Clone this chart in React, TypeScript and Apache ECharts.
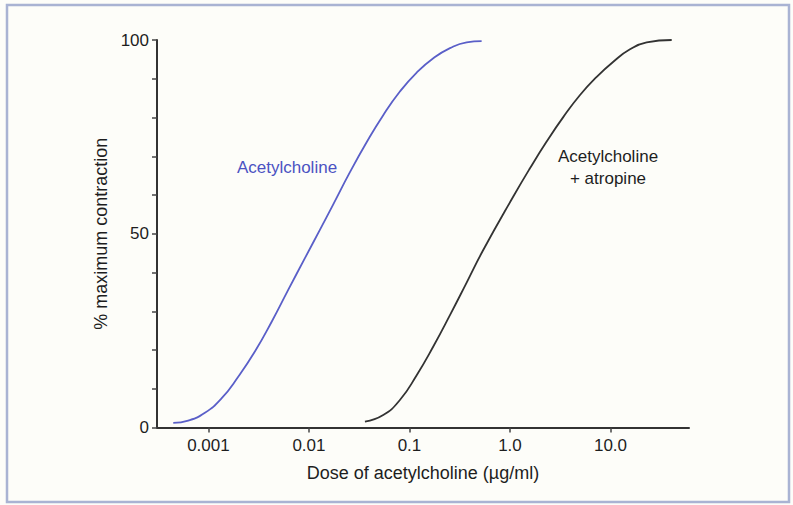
import React, { useEffect, useRef } from "react";
import * as echarts from "echarts";

// Dose (µg/ml) and % maximum contraction
const achDose = [0.000447, 0.00063, 0.000923, 0.00135, 0.00198, 0.0029, 0.00426, 0.00622, 0.00912, 0.01285, 0.01746, 0.02559, 0.0375, 0.05483, 0.08035, 0.118, 0.1726, 0.2529, 0.3707, 0.5224];
const achPct = [1.2, 1.8, 3.8, 7.5, 13.1, 19.6, 27.3, 35.5, 43.7, 51.0, 57.6, 65.9, 73.6, 80.6, 86.7, 91.6, 95.3, 97.9, 99.4, 99.7];

const atrDose = [0.03606, 0.05483, 0.08035, 0.118, 0.1726, 0.2529, 0.3707, 0.542, 1.079, 1.581, 2.317, 3.388, 4.977, 7.295, 10.67, 15.63, 22.91, 40.64];
const atrPct = [1.5, 3.2, 7.1, 13.5, 20.9, 29.0, 37.4, 45.8, 59.6, 66.9, 73.8, 80.1, 85.8, 90.5, 94.4, 97.6, 99.4, 100];

const xTickDoses = [0.001, 0.01, 0.1, 1, 10];
const xTickLabels = ["0.001", "0.01", "0.1", "1.0", "10.0"];
const yLabeled = [0, 50, 100];

const xMinDose = 0.000308;
const xMaxDose = 60.4;

const FONT = "'Liberation Sans', Arial, Helvetica, sans-serif";

export default function App() {
  const ref = useRef<HTMLDivElement>(null);

  useEffect(() => {
    if (!ref.current) return;
    const chart = echarts.init(ref.current, null, { renderer: "svg" });
    const toPts = (d: number[], p: number[]) => d.map((v, i) => [Math.log10(v), p[i]]);
    const tickLogs = xTickDoses.map((v) => Math.log10(v));

    chart.setOption({
      animation: false,
      backgroundColor: "#fdfdf9",
      textStyle: { fontFamily: FONT },
      grid: { left: 157, right: 104, top: 40, bottom: 77.5 },
      xAxis: {
        type: "value",
        min: Math.log10(xMinDose),
        max: Math.log10(xMaxDose),
        name: "Dose of acetylcholine (µg/ml)",
        nameLocation: "middle",
        nameGap: 36,
        nameTextStyle: { fontSize: 18, color: "#1e1e1e", fontFamily: FONT, verticalAlign: "top" },
        axisLine: { show: true, onZero: false, lineStyle: { color: "#333", width: 2 } },
        axisTick: { show: true, length: 5, customValues: tickLogs, lineStyle: { color: "#444", width: 1.5 } },
        axisLabel: {
          customValues: tickLogs,
          fontSize: 17,
          color: "#1e1e1e",
          margin: 9,
          fontFamily: FONT,
          formatter: (v: number) => {
            const i = tickLogs.findIndex((t) => Math.abs(t - v) < 1e-6);
            return i >= 0 ? xTickLabels[i] : "";
          },
        },
        splitLine: { show: false },
      },
      yAxis: {
        type: "value",
        min: 0,
        max: 100,
        interval: 10,
        name: "% maximum contraction",
        nameLocation: "middle",
        nameGap: 44,
        nameTextStyle: { fontSize: 18, color: "#1e1e1e", fontFamily: FONT },
        axisLine: { show: true, onZero: false, lineStyle: { color: "#333", width: 2 } },
        axisTick: { show: true, length: 5, lineStyle: { color: "#444", width: 1.5 } },
        axisLabel: {
          fontSize: 17,
          color: "#1e1e1e",
          margin: 8,
          fontFamily: FONT,
          formatter: (v: number) => (yLabeled.includes(v) ? String(v) : ""),
        },
        splitLine: { show: false },
      },
      graphic: [
        {
          type: "rect",
          shape: { x: 7, y: 5, width: 782, height: 497 },
          style: { fill: "none", stroke: "#a9b3d3", lineWidth: 2.5 },
          silent: true,
        },
        {
          type: "text",
          x: 287,
          y: 167,
          style: {
            text: "Acetylcholine",
            fill: "#4b52c2",
            font: `17px ${FONT}`,
            align: "center",
            verticalAlign: "middle",
          },
        },
        {
          type: "text",
          x: 608,
          y: 167,
          style: {
            text: "Acetylcholine\n+ atropine",
            fill: "#1e1e1e",
            font: `17px ${FONT}`,
            align: "center",
            verticalAlign: "middle",
            lineHeight: 22,
          },
        },
      ],
      series: [
        {
          name: "Acetylcholine",
          type: "line",
          data: toPts(achDose, achPct),
          smooth: 0.5,
          showSymbol: false,
          lineStyle: { color: "#5a5fc8", width: 1.8 },
        },
        {
          name: "Acetylcholine + atropine",
          type: "line",
          data: toPts(atrDose, atrPct),
          smooth: 0.5,
          showSymbol: false,
          lineStyle: { color: "#333", width: 1.8 },
        },
      ],
    });

    return () => chart.dispose();
  }, []);

  return (
    <div
      ref={ref}
      style={{ position: "fixed", left: 0, top: 0, width: 793, height: 505 }}
    />
  );
}
